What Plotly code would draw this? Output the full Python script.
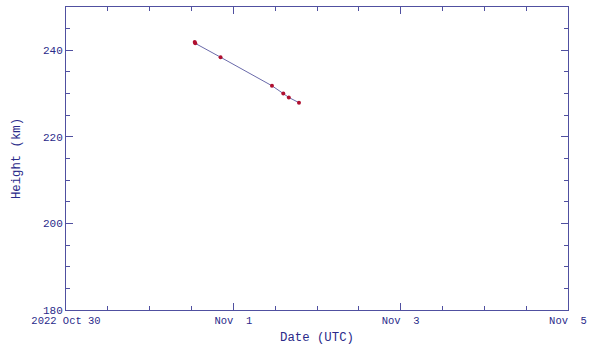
import plotly.graph_objects as go

dates = ["2022-10-31 12:55", "2022-10-31 13:05", "2022-10-31 20:20", "2022-11-01 11:05",
         "2022-11-01 14:20", "2022-11-01 15:55", "2022-11-01 18:50"]
heights = [241.9, 241.6, 238.4, 231.8, 230.0, 229.1, 227.9]

xtick_vals = ["2022-10-30", "2022-11-01", "2022-11-03", "2022-11-05"]
xtick_text = ["2022 Oct 30", "Nov  1", "Nov  3", "Nov  5"]
ytick_vals = [180, 200, 220, 240]

axcol = "#5050a0"
txtcol = "#2a2a8a"
font = "Liberation Mono"

fig = go.Figure()
fig.add_trace(go.Scatter(
    x=dates, y=heights, mode="lines+markers",
    line=dict(color="#6a6aaa", width=1),
    marker=dict(color="#b01030", size=4),
    showlegend=False,
))

fig.update_layout(
    width=600, height=348,
    margin=dict(l=66, r=32, t=7, b=38),
    paper_bgcolor="white", plot_bgcolor="white",
    font=dict(family=font, size=11, color=txtcol),
)
fig.update_xaxes(
    range=["2022-10-30", "2022-11-05"],
    tickvals=xtick_vals, ticktext=xtick_text,
    ticks="inside", ticklen=7, tickcolor=axcol, tickwidth=1,
    showline=True, linecolor=axcol, linewidth=1, mirror="allticks",
    showgrid=False, zeroline=False, automargin=False,
    minor=dict(dtick=12 * 3600 * 1000, ticks="inside", ticklen=4, tickcolor=axcol, showgrid=False),
    title=dict(text="Date (UTC)", standoff=6, font=dict(size=12.3, color=txtcol)),
    tickfont=dict(size=10.5, color=txtcol),
)
fig.update_yaxes(
    range=[180, 250],
    tickvals=ytick_vals,
    ticks="inside", ticklen=7, tickcolor=axcol, tickwidth=1,
    showline=True, linecolor=axcol, linewidth=1, mirror="allticks",
    showgrid=False, zeroline=False, automargin=False,
    minor=dict(dtick=5, ticks="inside", ticklen=4, tickcolor=axcol, showgrid=False),
    title=dict(text="Height (km)", standoff=19, font=dict(size=12.3, color=txtcol)),
    tickfont=dict(size=11, color=txtcol),
)

fig.write_html("out.html", config={"displayModeBar": False},
               post_script="document.body.style.margin='0';")
